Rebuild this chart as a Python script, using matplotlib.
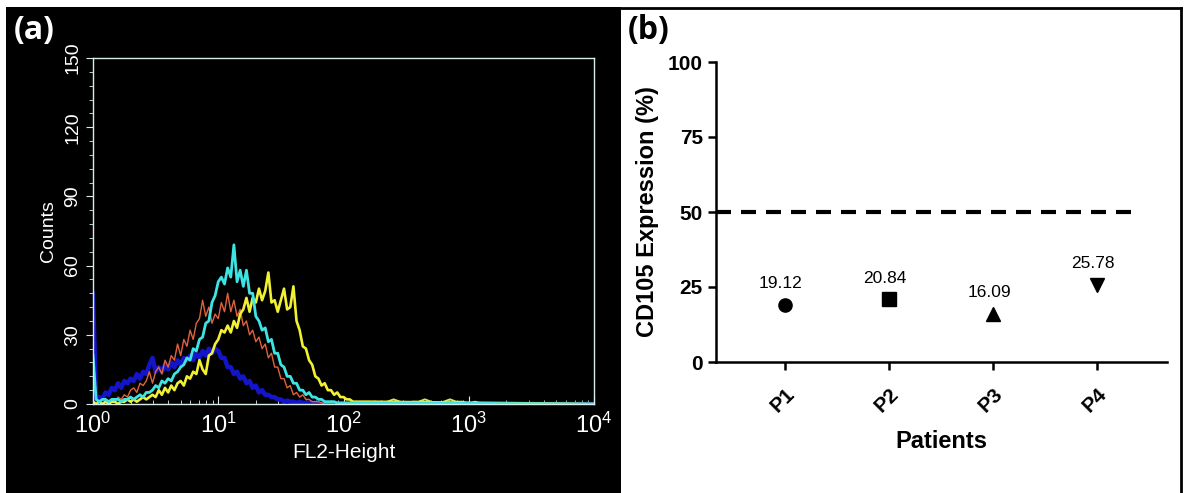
import numpy as np
import matplotlib.pyplot as plt
from matplotlib.patches import Rectangle
from matplotlib.lines import Line2D
from matplotlib.ticker import MultipleLocator, LogLocator, NullFormatter

plt.rcParams['font.family'] = ['Liberation Sans', 'DejaVu Sans']

# --- (a) histogram data: log10(FL2-Height) channels and counts
log_fl2 = np.round(np.arange(0, 2.2001, 0.025), 3)

blue_counts = [48, 2, 3, 2, 5, 4, 7, 6, 9, 7,
               10, 9, 11, 10, 13, 11, 14, 13, 17, 20,
               14, 16, 14, 17, 15, 18, 16, 19, 17, 20,
               19, 21, 19, 22, 20, 23, 21, 24, 22, 24,
               23, 20, 20, 16, 16, 13, 14, 11, 12, 9,
               10, 7, 8, 5, 6, 4, 4, 3, 3, 2,
               2, 1, 1.5, 1, 1, 0.5, 1, 0.5, 0.5, 0.5,
               0.5, 0.5, 0, 0, 0, 0, 0, 0, 0, 0,
               0, 0, 0, 0, 0, 0, 0, 0, 0]

orange_counts = [1, 0, 1, 0, 1, 1, 2, 1, 3, 2,
                 4, 3, 6, 7, 5, 9, 8, 10, 14, 9,
                 14, 16, 13, 19, 16, 21, 19, 26, 21, 28,
                 25, 32, 28, 35, 37, 45, 38, 42, 35, 39,
                 37, 44, 40, 48, 40, 45, 38, 41, 34, 36,
                 30, 32, 27, 29, 24, 26, 20, 22, 16, 16,
                 11, 11, 7, 8, 4, 5, 3, 4, 2, 2,
                 1, 1, 1, 0.5, 0, 0, 0, 0, 0, 0,
                 0, 0, 0, 0, 0, 0, 0, 0, 0]

yellow_counts = [1, 0, 1, 0, 1, 0, 1, 1, 0, 1,
                 1, 2, 1, 2, 1, 2, 3, 2, 3, 4,
                 3, 6, 4, 7, 5, 8, 6, 9, 10, 8,
                 12, 11, 14, 13, 19, 15, 13, 21, 22, 26,
                 28, 32, 31, 34, 31, 36, 33, 39, 41, 46,
                 40, 46, 44, 50, 45, 49, 57, 44, 45, 40,
                 45, 50, 41, 42, 51, 36, 32, 25, 24, 19,
                 17, 12, 11, 8, 9, 6, 6, 4, 5, 3,
                 3, 2, 2, 1, 1, 1, 1, 1, 1]

cyan_counts = [21, 2, 1, 2, 2, 1, 2, 2, 2, 1,
               2, 2, 3, 2, 3, 4, 3, 5, 5, 6,
               8, 7, 10, 9, 11, 10, 13, 14, 16, 17,
               20, 19, 24, 23, 28, 29, 35, 36, 44, 47,
               53, 55, 52, 59, 55, 69, 53, 58, 51, 58,
               48, 48, 38, 36, 32, 33, 27, 28, 22, 22,
               17, 16, 12, 12, 9, 9, 6, 6, 4, 5,
               3, 3, 2, 2, 1, 1, 1, 1, 0.5, 0.5,
               0.5, 0.5, 0.5, 0.5, 0.5, 0.5, 0.5, 0.5, 0.5]

# sparse events beyond 10^2.2
tail_log = np.round(np.arange(2.25, 3.1001, 0.05), 3)
yellow_tail = [1, 0, 1, 2, 1, 0, 1, 1, 2, 1, 0, 1, 2, 1, 1, 0, 1, 0]

# --- (b) CD105 expression per patient
patients = ['P1', 'P2', 'P3', 'P4']
cd105 = [19.12, 20.84, 16.09, 25.78]
markers = ['o', 's', '^', 'v']
threshold = 50

W, H = 1184, 493
fig = plt.figure(figsize=(W / 100, H / 100), dpi=100)
fig.patch.set_facecolor('white')

# black background of panel (a)
fig.add_artist(Rectangle((6 / W, 0), (621 - 6) / W, (H - 7) / H,
                         transform=fig.transFigure, facecolor='black',
                         edgecolor='none', zorder=0))
# frame of panel (b)
fig.add_artist(Line2D([621 / W, 1181 / W], [1 - 8 / H, 1 - 8 / H],
                      transform=fig.transFigure, color='black', lw=2))
fig.add_artist(Line2D([1181 / W, 1181 / W], [0, 1 - 8 / H],
                      transform=fig.transFigure, color='black', lw=2))

# ---------------- panel (a)
frame_col = '#d8ecec'
ax1 = fig.add_axes([93 / W, 1 - 404 / H, (594 - 93) / W, (404 - 58) / H])
ax1.set_facecolor('black')
x_main = np.append(10 ** log_fl2, 1e4)
ax1.plot(x_main, blue_counts + [0], color='#1414c8', lw=3.2)
ax1.plot(x_main, orange_counts + [0], color='#e0623c', lw=1.0)
ax1.plot(10 ** tail_log, yellow_tail, color='#d8e850', lw=1.4)
ax1.plot(x_main, yellow_counts + [0], color='#f2f032', lw=1.9)
ax1.plot(x_main, cyan_counts + [0], color='#3ee4e4', lw=2.0)

ax1.set_xscale('log')
ax1.set_xlim(1, 1e4)
ax1.set_ylim(0, 150)
ax1.xaxis.set_major_locator(LogLocator(base=10, numticks=10))
ax1.xaxis.set_minor_locator(LogLocator(base=10, subs=np.arange(2, 10), numticks=10))
ax1.xaxis.set_minor_formatter(NullFormatter())
ax1.yaxis.set_major_locator(MultipleLocator(30))
ax1.yaxis.set_minor_locator(MultipleLocator(6))
for s in ax1.spines.values():
    s.set_color(frame_col)
    s.set_linewidth(1.0)
ax1.tick_params(axis='x', which='both', direction='in', colors=frame_col,
                labelcolor='white', labelsize=17, pad=6)
ax1.tick_params(axis='x', which='major', length=6)
ax1.tick_params(axis='x', which='minor', length=3)
ax1.tick_params(axis='y', which='both', direction='out', colors=frame_col,
                labelcolor='white', labelsize=14)
ax1.tick_params(axis='y', which='major', length=5)
ax1.tick_params(axis='y', which='minor', length=3)
for lab in ax1.get_yticklabels():
    lab.set_rotation(90)
    lab.set_va('center')
ax1.set_xlabel('FL2-Height', color='white', fontsize=15, labelpad=4)
ax1.set_ylabel('Counts', color='white', fontsize=14, labelpad=5)

fig.text(14 / W, 1 - 14 / H, '(a)', color='white', fontsize=23,
         fontweight='bold', family='Open Sans', va='top', ha='left')

# ---------------- panel (b)
ax2 = fig.add_axes([716 / W, 1 - 362 / H, (1167 - 716) / W, (362 - 62) / H])
xpos = np.arange(1, len(patients) + 1)
for x, v, m in zip(xpos, cd105, markers):
    ax2.plot(x, v, marker=m, color='black', markersize=9.5, linestyle='none')
    ax2.annotate(f'{v:.2f}', (x, v), xytext=(-3, 10), textcoords='offset points',
                 ha='center', va='bottom', fontsize=12.5)
ax2.plot([0.337, 4.39], [threshold, threshold], color='black', lw=3,
         linestyle=(0, (3.6, 2.4)))

ax2.set_xlim(0.337, 4.67)
ax2.set_ylim(0, 100)
ax2.set_yticks([0, 25, 50, 75, 100])
ax2.set_xticks(xpos)
ax2.set_xticklabels(patients, rotation=45, ha='right', va='top',
                    rotation_mode='anchor', fontweight='bold', fontsize=14)
for lab in ax2.get_yticklabels():
    lab.set_fontweight('bold')
ax2.spines['top'].set_visible(False)
ax2.spines['right'].set_visible(False)
ax2.spines['left'].set_linewidth(1.8)
ax2.spines['bottom'].set_linewidth(1.8)
ax2.tick_params(axis='both', direction='out', length=6, width=1.8,
                labelsize=15, colors='black')
ax2.tick_params(axis='x', pad=10)
ax2.set_xlabel('Patients', fontsize=17, fontweight='bold', labelpad=10)
ax2.set_ylabel('CD105 Expression (%)', fontsize=17, fontweight='bold', labelpad=6)

fig.text(628 / W, 1 - 14 / H, '(b)', color='black', fontsize=23,
         fontweight='bold', family='Open Sans', va='top', ha='left')

fig.savefig('out.png', dpi=100, facecolor=fig.get_facecolor())
